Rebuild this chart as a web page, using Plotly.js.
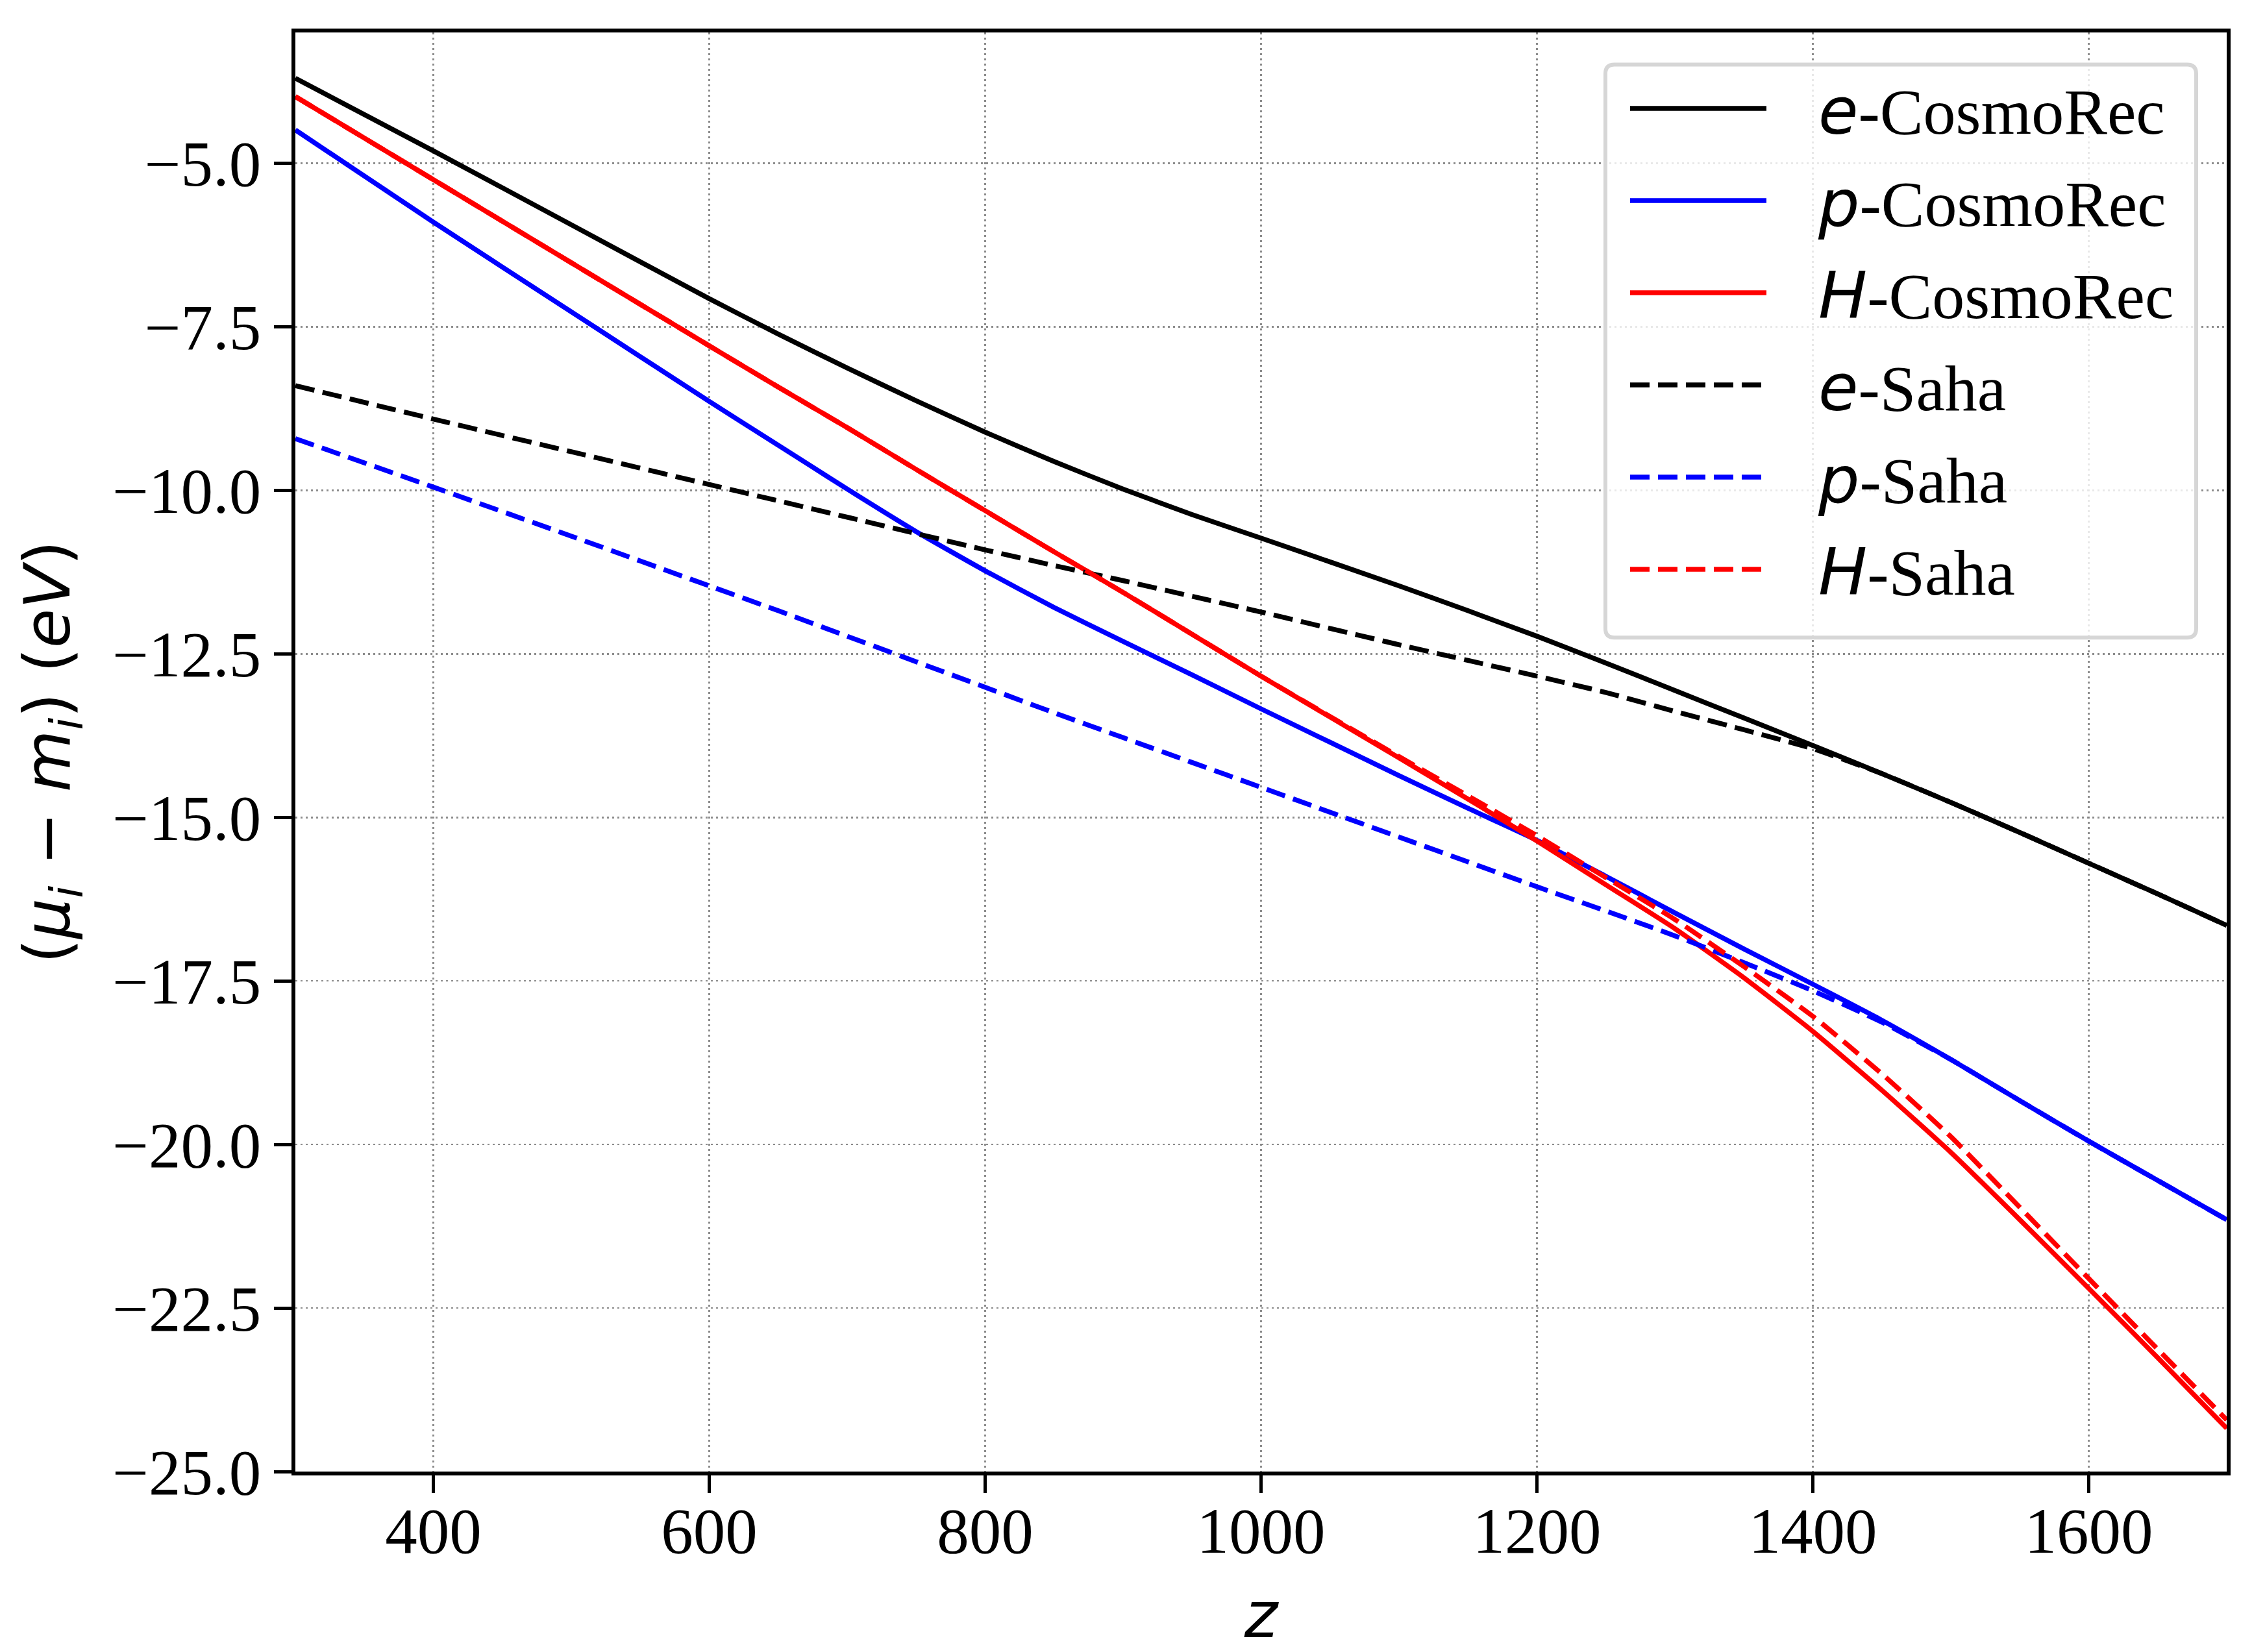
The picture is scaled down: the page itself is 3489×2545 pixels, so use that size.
<!DOCTYPE html>
<html>
<head>
<meta charset="utf-8">
<script src="https://cdn.plot.ly/plotly-3.0.1.min.js"></script>
<style>
  body { margin: 0; background: #fff; }
  #plot { width: 3489px; height: 2545px; }
</style>
</head>
<body>
<div id="plot"></div>
<script>
  // redshift grid
  var z = [300, 400, 500, 600, 650, 700, 750, 800, 850, 900, 950, 1000, 1100, 1150, 1200,
           1250, 1300, 1350, 1400, 1450, 1500, 1550, 1600, 1650, 1700];

  // chemical potentials (mu_i - m_i) in eV
  var eCosmoRec = [-3.70, -4.81, -5.94, -7.07, -7.61, -8.13, -8.63, -9.11, -9.56, -9.98, -10.37, -10.73, -11.46, -11.84, -12.23,
                   -12.64, -13.06, -13.48, -13.90, -14.33, -14.77, -15.23, -15.70, -16.17, -16.65];
  var pCosmoRec = [-4.49, -5.90, -7.27, -8.64, -9.31, -9.98, -10.63, -11.23, -11.79, -12.31, -12.82, -13.34, -14.36, -14.86, -15.35,
                   -15.90, -16.46, -17.01, -17.55, -18.10, -18.70, -19.33, -19.95, -20.55, -21.15];
  var hCosmoRec = [-3.98, -5.25, -6.52, -7.79, -8.42, -9.04, -9.68, -10.31, -10.94, -11.56, -12.20, -12.84, -14.09, -14.72, -15.36,
                   -16.03, -16.70, -17.45, -18.27, -19.17, -20.12, -21.15, -22.20, -23.26, -24.34];
  var eSaha = [-8.40, -8.91, -9.41, -9.91, -10.16, -10.41, -10.66, -10.91, -11.15, -11.38, -11.62, -11.86, -12.36, -12.60, -12.84,
               -13.09, -13.38, -13.66, -13.95, -14.33, -14.77, -15.23, -15.70, -16.17, -16.65];
  var pSaha = [-9.21, -9.95, -10.70, -11.46, -11.84, -12.23, -12.62, -13.01, -13.40, -13.78, -14.16, -14.54, -15.30, -15.68, -16.06,
               -16.43, -16.81, -17.22, -17.65, -18.13, -18.70, -19.33, -19.95, -20.55, -21.15];
  var hSaha = [-3.98, -5.25, -6.52, -7.79, -8.42, -9.04, -9.68, -10.31, -10.94, -11.56, -12.20, -12.84, -14.07, -14.67, -15.28,
               -15.92, -16.56, -17.28, -18.04, -18.92, -19.88, -20.96, -22.05, -23.13, -24.21];

  var gap = '\u00a0\u00a0\u00a0';
  var sym = function(s){ return gap + '<span style="font-family:DejaVu Sans"><i>' + s + '</i></span>'; };
  var names = [sym('e') + '-CosmoRec', sym('p') + '-CosmoRec', sym('H') + '-CosmoRec',
               sym('e') + '-Saha', sym('p') + '-Saha', sym('H') + '-Saha'];
  var series = [eCosmoRec, pCosmoRec, hCosmoRec, eSaha, pSaha, hSaha];
  var colors = ['#000000', '#0000ff', '#ff0000', '#000000', '#0000ff', '#ff0000'];

  var data = series.map(function(ys, i){
    return {
      x: z,
      y: ys,
      name: names[i],
      legendgroup: 'g' + i,
      type: 'scatter',
      mode: 'lines',
      line: {
        color: colors[i],
        width: 7.5,
        shape: 'spline',
        smoothing: 0.5,
        dash: i < 3 ? 'solid' : '30px,13px'
      }
    };
  });

  var axisCommon = {
    showline: true,
    mirror: true,
    linecolor: '#000',
    linewidth: 6,
    ticks: 'outside',
    ticklen: 27,
    tickwidth: 5,
    tickcolor: '#000',
    showgrid: true,
    gridcolor: 'rgba(128,128,128,0.9)',
    gridwidth: 2.5,
    griddash: '3px,5px',
    zeroline: false,
    tickfont: { family: 'Liberation Serif', size: 99, color: '#000' }
  };

  // legend frame (rounded, light grey, translucent white)
  var fx0 = 0.6783, fx1 = 0.9842, fy0 = 0.5795, fy1 = 0.9777, rx = 0.0047, ry = 0.0063;
  var framePath = 'M' + (fx0 + rx) + ',' + fy0 + ' L' + (fx1 - rx) + ',' + fy0 +
    ' Q' + fx1 + ',' + fy0 + ' ' + fx1 + ',' + (fy0 + ry) +
    ' L' + fx1 + ',' + (fy1 - ry) + ' Q' + fx1 + ',' + fy1 + ' ' + (fx1 - rx) + ',' + fy1 +
    ' L' + (fx0 + rx) + ',' + fy1 + ' Q' + fx0 + ',' + fy1 + ' ' + fx0 + ',' + (fy1 - ry) +
    ' L' + fx0 + ',' + (fy0 + ry) + ' Q' + fx0 + ',' + fy0 + ' ' + (fx0 + rx) + ',' + fy0 + ' Z';

  var layout = {
    width: 3489,
    height: 2545,
    paper_bgcolor: '#fff',
    plot_bgcolor: '#fff',
    margin: { l: 455, r: 59, t: 50, b: 278 },
    font: { family: 'Liberation Serif', color: '#000' },
    showlegend: true,
    xaxis: Object.assign({}, axisCommon, {
      range: [300, 1700],
      tick0: 400,
      dtick: 200,
      ticklabelstandoff: -27,
      title: { text: '<i>z</i>', font: { family: 'DejaVu Sans', size: 98, color: '#000' }, standoff: 62 }
    }),
    yaxis: Object.assign({}, axisCommon, {
      range: [-25, -3],
      tick0: -25,
      dtick: 2.5,
      tickformat: '.1f',
      title: {
        text: '(<i>μ</i><sub><i>i</i></sub> − <i>m</i><sub><i>i</i></sub>) (<i>eV</i>)',
        font: { family: 'DejaVu Sans', size: 98, color: '#000' },
        standoff: 35
      }
    }),
    shapes: [{
      type: 'path',
      xref: 'paper',
      yref: 'paper',
      path: framePath,
      layer: 'above',
      fillcolor: 'rgba(255,255,255,0.8)',
      line: { color: '#d6d6d6', width: 6 }
    }],
    legend: {
      x: 0.6894,
      y: 0.9795,
      xanchor: 'left',
      yanchor: 'top',
      bgcolor: 'rgba(0,0,0,0)',
      borderwidth: 0,
      tracegroupgap: 9,
      font: { family: 'Liberation Serif', size: 100, color: '#000' },
      itemwidth: 210
    }
  };

  Plotly.newPlot('plot', data, layout, { staticPlot: true });
</script>
</body>
</html>
